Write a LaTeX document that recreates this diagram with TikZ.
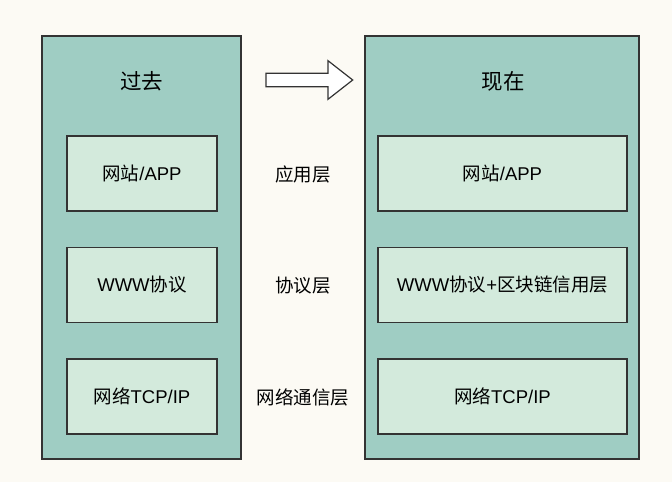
\documentclass[tikz,border=0pt]{standalone}
\usepackage{fontspec}
\setmainfont{Noto Sans CJK SC}
\newfontfamily\latinfont{Liberation Sans}
\usepackage{xcolor}
\usepackage{tikz}

\definecolor{bgcream}{HTML}{FCFAF4}
\definecolor{outergreen}{HTML}{9FCDC3}
\definecolor{innergreen}{HTML}{D3EADC}
\definecolor{edgegrey}{HTML}{333333}

\tikzset{
	column/.style={draw=edgegrey, fill=outergreen, line width=1.2pt, minimum height=423pt, inner sep=0pt},
	layer/.style={draw=edgegrey, fill=innergreen, line width=1.2pt, minimum height=75pt, inner sep=0pt, font=\fontsize{18.5}{20}\selectfont},
	title/.style={font=\fontsize{21.5}{24}\selectfont},
	tag/.style={font=\fontsize{18.5}{20}\selectfont}
}

\begin{document}
\begin{tikzpicture}[x=1pt, y=-1pt]

\fill[bgcream] (0,0) rectangle (672,482);

% two columns
\node[column, minimum width=199pt] (past) at (141.5,247.5) {};
\node[column, minimum width=274pt] (now) at (502,247.5) {};

\node[title] (pasttitle) at (141.5,81) {过去};
\node[title] (nowtitle) at (503,81) {现在};

% layers of the past
\node[layer, minimum width=150pt] (pastapp) at (142,173.5) {网站{\latinfont/APP}};
\node[layer, minimum width=150pt] (pastwww) at (142,285) {{\latinfont WWW}协议};
\node[layer, minimum width=150pt] (pastnet) at (142,396.5) {网络{\latinfont TCP/IP}};

% layers of now
\node[layer, minimum width=249pt] (nowapp) at (502.5,173.5) {网站{\latinfont/APP}};
\node[layer, minimum width=249pt] (nowwww) at (502.5,285) {{\latinfont WWW}协议{\latinfont+}区块链信用层};
\node[layer, minimum width=249pt] (nownet) at (502.5,396.5) {网络{\latinfont TCP/IP}};

% layer names
\node[tag] (appname) at (303,174) {应用层};
\node[tag] (wwwname) at (303,286) {协议层};
\node[tag] (netname) at (303,397) {网络通信层};

% big arrow
\draw[fill=white, draw=edgegrey, line width=1.2pt]
(266,73.3)--(328,73.3)--(328,60.7)--(352.7,80)--(328,99.3)--(328,86.7)--(266,86.7)--cycle;

\end{tikzpicture}
\end{document}
